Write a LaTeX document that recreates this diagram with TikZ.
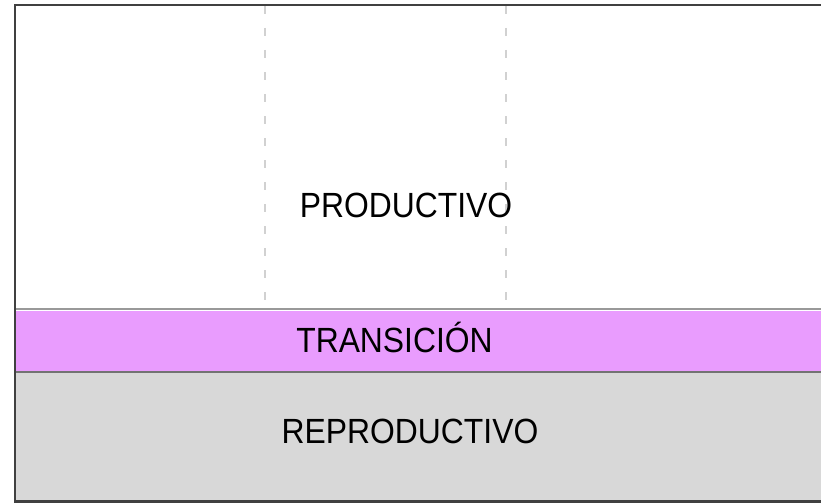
\documentclass[tikz,border=0pt]{standalone}
\usepackage{fontspec}
\setmainfont{Liberation Sans}[FakeStretch=0.91]
\definecolor{transpink}{RGB}{233,156,254}
\definecolor{reprogray}{RGB}{216,216,216}

\begin{document}
\begin{tikzpicture}
[
	x=1pt,y=-1pt,
	bandlabel/.style={inner sep=0pt,anchor=base,font=\fontsize{35}{40}\selectfont},
	guide/.style={draw=black!18,line width=2pt,dash pattern=on 8pt off 14pt},
	border/.style={draw=black!75,line width=2.2pt}
]
	\useasboundingbox (0,0) rectangle (821,503);

	% bands
	\fill[transpink] (15,310.5) rectangle (821,371);
	\fill[reprogray] (15,371) rectangle (821,501.5);

	% guide lines
	\draw[guide] (265,6) -- (265,308);
	\draw[guide] (505.5,6) -- (505.5,308);

	% separators
	\draw[black!40,line width=2pt] (15,309) -- (821,309);
	\draw[black!55,line width=2pt] (15,372) -- (821,372);

	% frame
	\draw[border] (821,5) -- (15,5) -- (15,501.5) -- (821,501.5);

	% labels
	\node[bandlabel] (prod) at (406,217) {PRODUCTIVO};
	\node[bandlabel] (trans) at (394.5,352) {TRANSICIÓN};
	\node[bandlabel] (repro) at (410,443) {REPRODUCTIVO};

\end{tikzpicture}
\end{document}
